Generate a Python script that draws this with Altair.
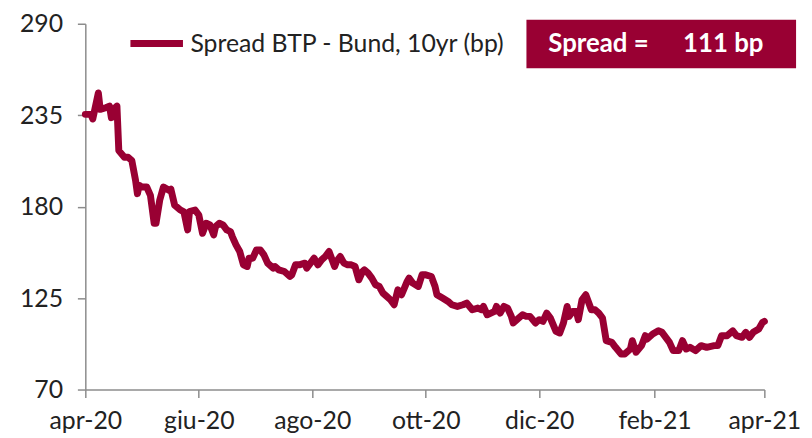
import altair as alt
import pandas as pd

# ---- data ----
dates = [
    "2020-04-01","2020-04-04","2020-04-05","2020-04-08","2020-04-09","2020-04-12","2020-04-14","2020-04-15","2020-04-17","2020-04-18",
    "2020-04-19","2020-04-22","2020-04-24","2020-04-26","2020-04-28","2020-04-29","2020-04-30","2020-05-01","2020-05-04","2020-05-06",
    "2020-05-08","2020-05-09","2020-05-11","2020-05-13","2020-05-16","2020-05-17","2020-05-19","2020-05-22","2020-05-24","2020-05-26",
    "2020-05-27","2020-05-30","2020-06-01","2020-06-03","2020-06-05","2020-06-07","2020-06-09","2020-06-10","2020-06-12","2020-06-14",
    "2020-06-16","2020-06-18","2020-06-19","2020-06-21","2020-06-23","2020-06-25","2020-06-27","2020-06-28","2020-06-30","2020-07-02",
    "2020-07-04","2020-07-06","2020-07-08","2020-07-11","2020-07-12","2020-07-14","2020-07-17","2020-07-20","2020-07-21","2020-07-23",
    "2020-07-25","2020-07-28","2020-07-29","2020-07-31","2020-08-02","2020-08-04","2020-08-06","2020-08-08","2020-08-10","2020-08-13",
    "2020-08-14","2020-08-16","2020-08-18","2020-08-20","2020-08-22","2020-08-24","2020-08-26","2020-08-28","2020-08-29","2020-08-31",
    "2020-09-02","2020-09-04","2020-09-06","2020-09-08","2020-09-10","2020-09-12","2020-09-14","2020-09-16","2020-09-18","2020-09-21",
    "2020-09-22","2020-09-24","2020-09-27","2020-09-29","2020-10-01","2020-10-04","2020-10-06","2020-10-07","2020-10-10","2020-10-13",
    "2020-10-15","2020-10-18","2020-10-21","2020-10-23","2020-10-26","2020-10-29","2020-10-31","2020-11-01","2020-11-03","2020-11-05",
    "2020-11-07","2020-11-08","2020-11-10","2020-11-12","2020-11-14","2020-11-16","2020-11-17","2020-11-19","2020-11-22","2020-11-24",
    "2020-11-26","2020-11-29","2020-12-01","2020-12-03","2020-12-05","2020-12-07","2020-12-10","2020-12-12","2020-12-14","2020-12-16",
    "2020-12-17","2020-12-19","2020-12-21","2020-12-22","2020-12-24","2020-12-26","2020-12-27","2020-12-29","2020-12-31","2021-01-02",
    "2021-01-04","2021-01-06","2021-01-09","2021-01-11","2021-01-14","2021-01-16","2021-01-19","2021-01-20","2021-01-22","2021-01-25",
    "2021-01-27","2021-01-28","2021-01-31","2021-02-03","2021-02-05","2021-02-07","2021-02-09","2021-02-11","2021-02-14","2021-02-16",
    "2021-02-18","2021-02-20","2021-02-23","2021-02-26","2021-03-01","2021-03-05","2021-03-07","2021-03-09","2021-03-12","2021-03-15",
    "2021-03-17","2021-03-20","2021-03-22","2021-03-24","2021-03-26","2021-03-29","2021-03-31","2021-04-01",
]

spread = [
    235.5, 235.5, 232.7, 248.4, 238.5, 239.5, 240.5, 233.5, 239.5, 240.5,
    213.7, 209.7, 209.7, 207.7, 195.8, 187.8, 192.8, 192.0, 191.8, 186.8,
    170.0, 170.0, 183.9, 191.8, 189.8, 190.5, 180.9, 178.0, 176.9, 166.0,
    177.0, 178.0, 175.0, 164.0, 170.0, 169.0, 163.0, 168.0, 170.0, 169.0,
    166.0, 165.0, 162.0, 157.0, 153.0, 145.0, 144.0, 149.0, 149.0, 154.0,
    154.0, 151.0, 146.0, 143.0, 144.0, 142.0, 141.0, 138.0, 139.0, 145.0,
    145.0, 146.0, 143.0, 146.0, 149.0, 145.0, 148.0, 150.0, 153.0, 144.0,
    147.0, 150.0, 146.0, 145.0, 145.0, 144.0, 136.0, 141.0, 142.0, 140.0,
    137.0, 133.0, 132.0, 128.0, 126.0, 124.0, 121.0, 130.0, 127.0, 135.0,
    137.0, 134.0, 132.0, 139.0, 139.0, 138.0, 132.0, 127.0, 125.0, 123.0,
    121.0, 120.0, 121.0, 122.0, 118.0, 119.0, 118.0, 120.0, 115.0, 116.0,
    117.0, 120.0, 116.0, 120.0, 119.0, 114.0, 110.0, 112.0, 115.0, 114.0,
    114.0, 110.0, 112.0, 111.0, 116.0, 113.0, 105.0, 104.0, 110.0, 120.0,
    114.0, 117.0, 117.0, 112.0, 124.0, 127.0, 124.0, 118.0, 118.0, 116.0,
    113.0, 99.4, 98.4, 95.4, 91.4, 91.4, 94.4, 99.4, 92.4, 96.4,
    102.4, 100.4, 103.4, 105.3, 104.4, 101.4, 98.4, 93.4, 93.4, 99.4,
    94.4, 95.4, 93.4, 96.4, 95.4, 96.4, 96.4, 102.4, 102.4, 105.3,
    102.4, 101.4, 104.4, 101.4, 104.4, 106.4, 110.3, 111.0,
]

series_name = "Spread BTP - Bund, 10yr (bp)"
y_ticks = [70, 125, 180, 235, 290]
x_ticks = [(2020, 4), (2020, 6), (2020, 8), (2020, 10), (2020, 12), (2021, 2), (2021, 4)]
months_it = ["gen", "feb", "mar", "apr", "mag", "giu", "lug", "ago", "set", "ott", "nov", "dic"]
box_label = "Spread ="
box_value = "111 bp"

RED = "#990033"
FONT = "Lato"
TEXT = "#222222"
AXIS = "#8c8c8c"

df = pd.DataFrame({"date": dates, "spread": spread, "series": [series_name] * len(dates)})
box_df = pd.DataFrame({"label": [box_label], "value": [box_value]})

month_arr = "[" + ",".join(f"'{m}'" for m in months_it) + "]"
label_expr = f"{month_arr}[utcmonth(datum.value)] + '-' + utcFormat(datum.value, '%y')"

tick_values = [alt.DateTime(year=y, month=m, date=1, utc=True) for y, m in x_ticks]

line = alt.Chart(df).mark_line(strokeWidth=7, strokeCap="round", strokeJoin="round").encode(
    x=alt.X(
        "date:T",
        title=None,
        scale=alt.Scale(type="utc", domain=[tick_values[0], tick_values[-1]]),
        axis=alt.Axis(values=tick_values, labelExpr=label_expr, labelPadding=11,
                      labelFlush=False, labelOverlap=False),
    ),
    y=alt.Y(
        "spread:Q",
        title=None,
        scale=alt.Scale(domain=[70, 290], nice=False, zero=False),
        axis=alt.Axis(values=y_ticks, labelPadding=15, labelFlush=False, labelOverlap=False),
    ),
    color=alt.Color(
        "series:N",
        scale=alt.Scale(range=[RED]),
        legend=alt.Legend(
            title=None,
            orient="none",
            legendX=42,
            legendY=-10,
            symbolType="stroke",
            symbolSize=2809,
            symbolStrokeWidth=7,
            labelFontSize=25,
            labelFont=FONT,
            labelColor=TEXT,
            labelOffset=4,
            labelLimit=500,
        ),
    ),
)

box = alt.Chart(box_df).mark_rect(color=RED).encode(
    x=alt.value(445), x2=alt.value(717), y=alt.value(-4), y2=alt.value(45)
)
box_t1 = alt.Chart(box_df).mark_text(
    align="left", baseline="middle", font=FONT, fontWeight="bold", fontSize=26, color="white"
).encode(x=alt.value(467), y=alt.value(21), text="label:N")
box_t2 = alt.Chart(box_df).mark_text(
    align="left", baseline="middle", font=FONT, fontWeight="bold", fontSize=26, color="white"
).encode(x=alt.value(603), y=alt.value(21), text="value:N")

chart = (
    alt.layer(line, box, box_t1, box_t2)
    .properties(
        width=685,
        height=369,
        autosize=alt.AutoSizeParams(type="none"),
        padding={"left": 78, "top": 14, "right": 40, "bottom": 47},
    )
    .configure_view(stroke=None)
    .configure_axis(
        grid=False,
        domainColor=AXIS,
        domainWidth=1.5,
        tickColor=AXIS,
        tickWidth=1.5,
        tickSize=8,
        labelFont=FONT,
        labelFontSize=25,
        labelColor=TEXT,
    )
    .configure_legend(padding=0)
)

chart.save("out.html", embed_options={"renderer": "svg", "actions": False})
